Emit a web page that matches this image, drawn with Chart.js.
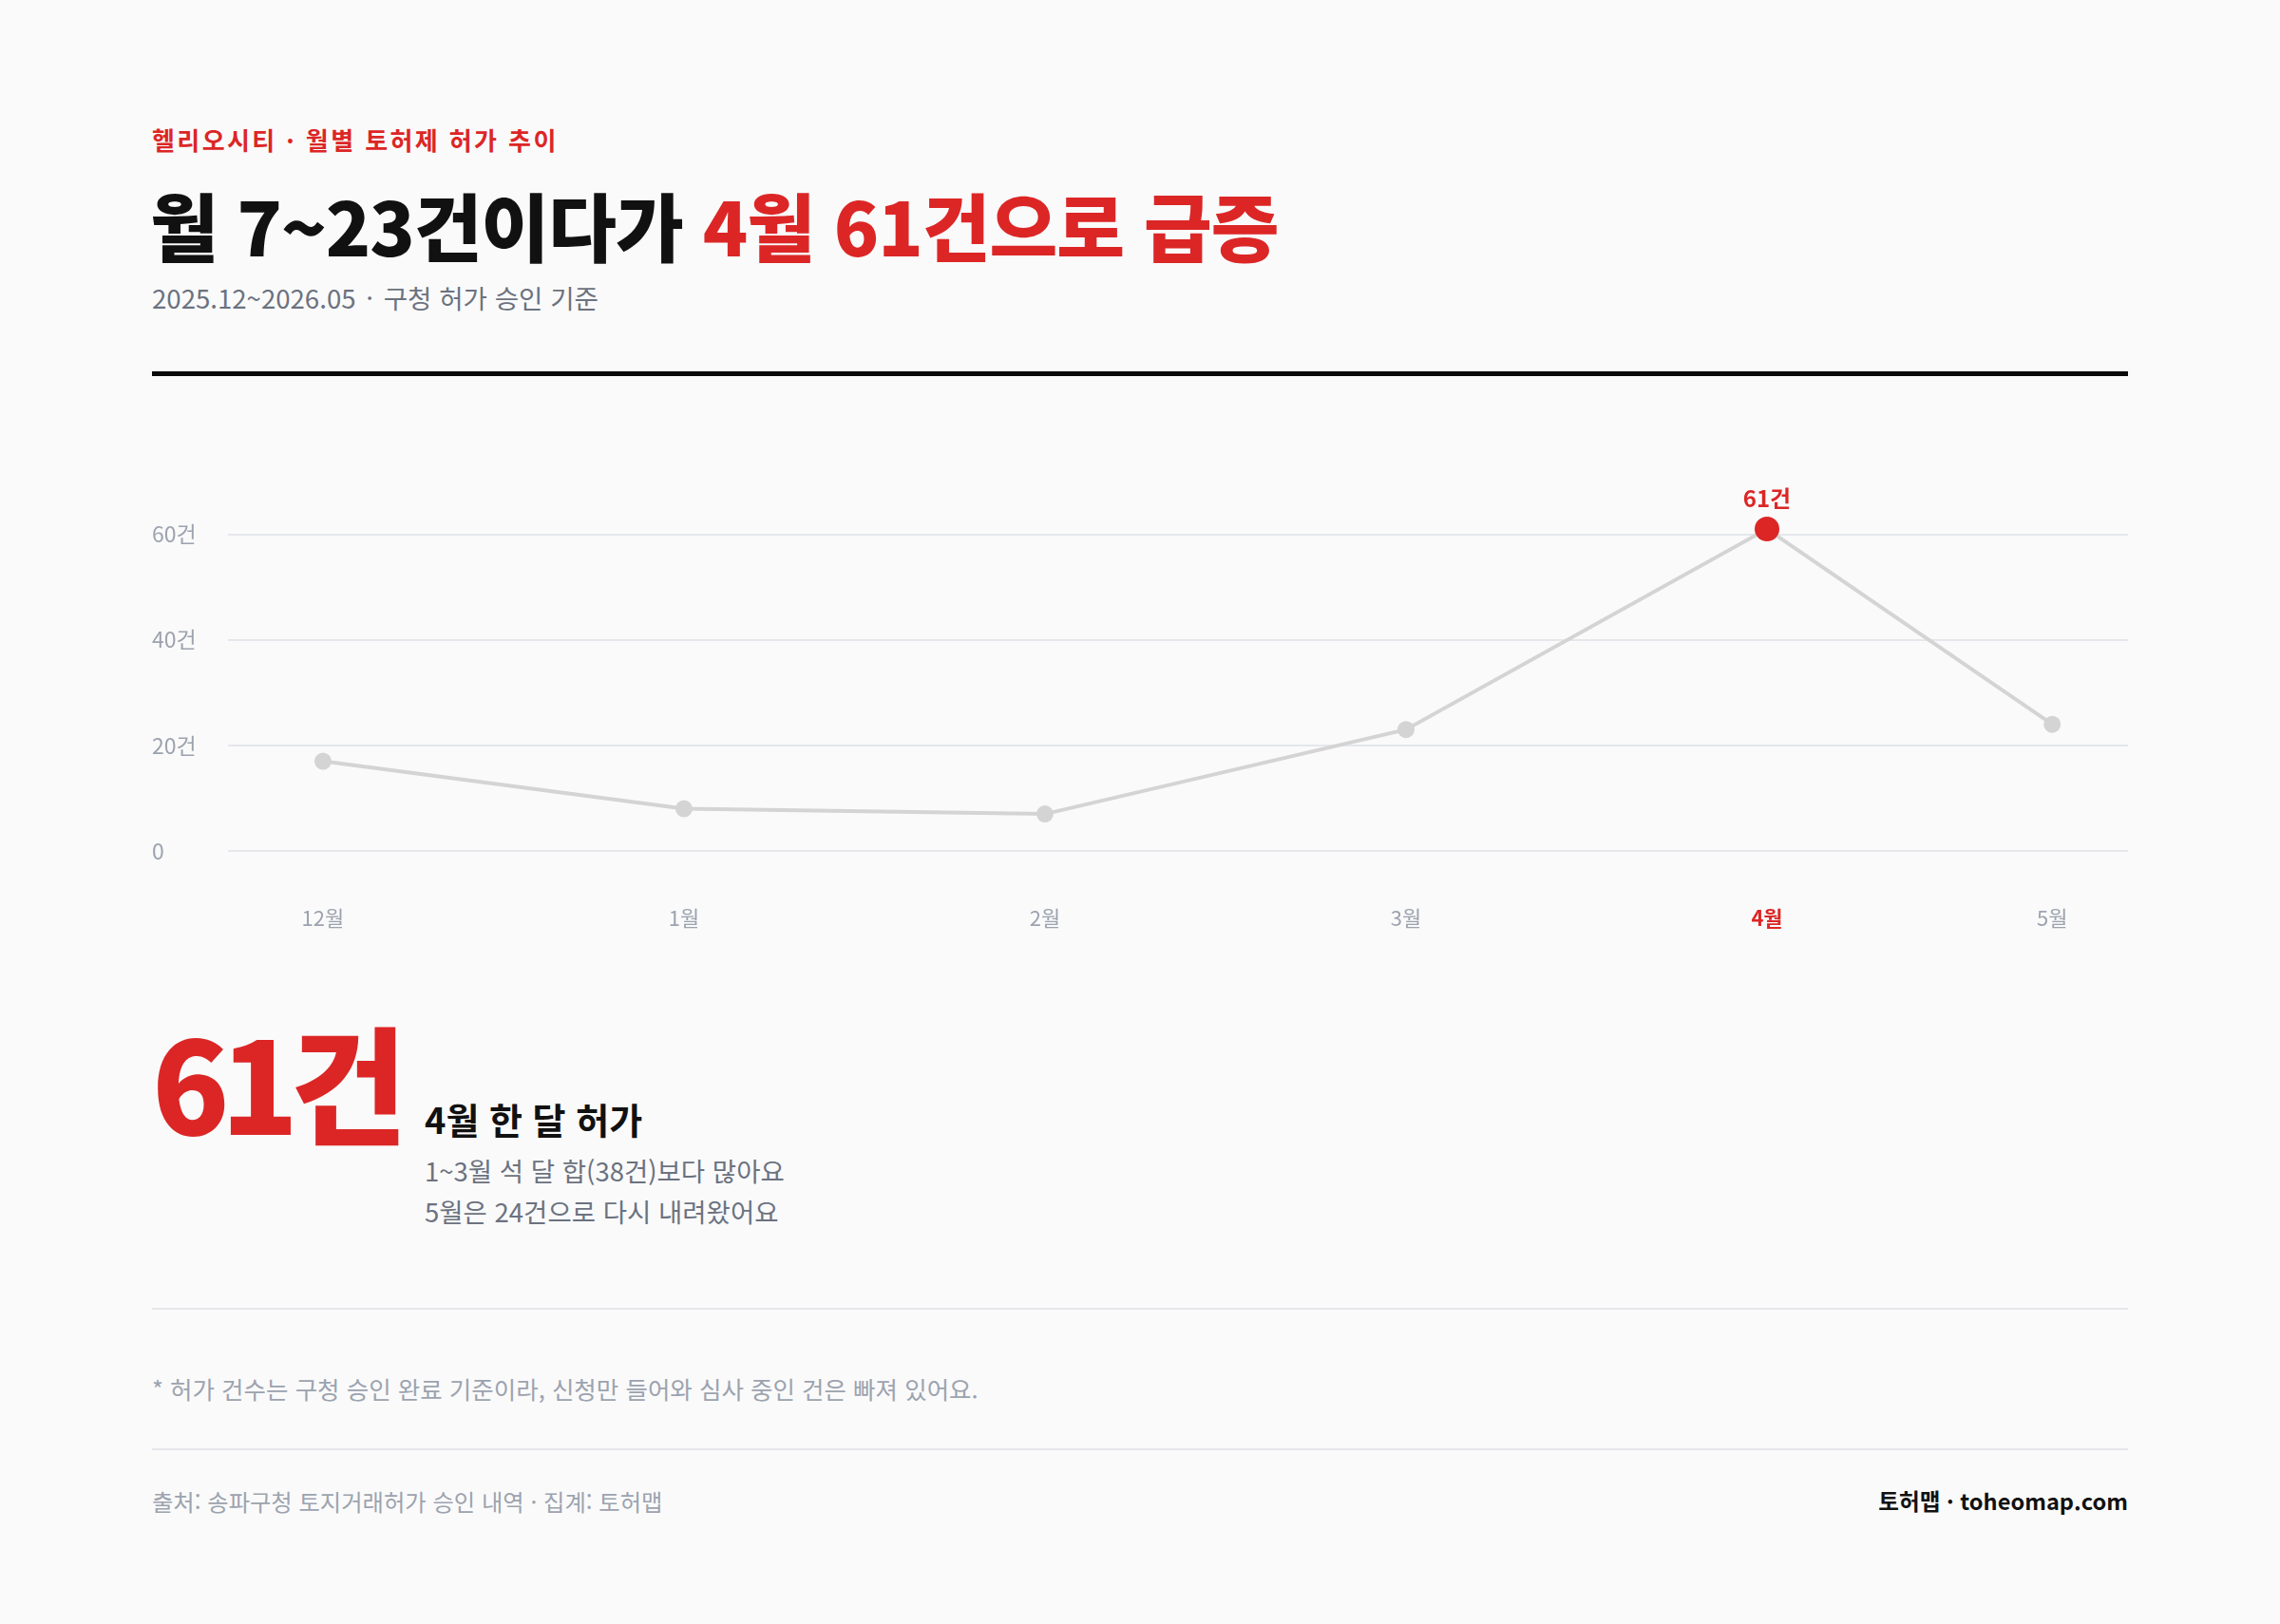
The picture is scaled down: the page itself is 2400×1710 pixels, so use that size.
<!DOCTYPE html>
<html lang="ko">
<head>
<meta charset="UTF-8">
<title>헬리오시티 월별 토허제 허가 추이</title>
<script src="https://cdn.jsdelivr.net/npm/chart.js"></script>
<style>
  body {
    margin: 0;
    width: 2400px;
    height: 1710px;
    background: #fafafa;
    font-family: 'Noto Sans CJK KR', 'Noto Sans', sans-serif;
    position: relative;
    overflow: hidden;
  }
  .abs { position: absolute; line-height: 1; white-space: nowrap; }
  .kicker { left: 160px; top: 134px; font-size: 26px; font-weight: 700; color: #dc2626; letter-spacing: 2.4px; }
  .title { left: 158px; top: 197px; font-size: 78px; font-weight: 900; color: #111; letter-spacing: -1px; }
  .title .red { color: #dc2626; }
  .sub { left: 160px; top: 300px; font-size: 27.6px; color: #6b7280; }
  .sub .dot { margin: 0 3px; }
  .rule { position: absolute; left: 160px; width: 2080px; top: 391px; height: 5px; background: #0a0a0a; }
  .chart-box { position: absolute; left: 150px; top: 440px; width: 2100px; height: 560px; }
  .big { left: 160px; top: 1070px; font-size: 134px; font-weight: 900; color: #dc2626; letter-spacing: -9px; }
  .big-head { left: 447px; top: 1159px; font-size: 38px; font-weight: 700; color: #111; }
  .line1 { left: 447px; top: 1219px; font-size: 27.5px; color: #6b7280; }
  .line2 { left: 447px; top: 1262px; font-size: 27.5px; color: #6b7280; }
  .sep { position: absolute; left: 160px; width: 2080px; height: 2px; background: #e5e7eb; }
  .note { left: 160px; top: 1449px; font-size: 25.5px; color: #9ca3af; }
  .src { left: 160px; top: 1569px; font-size: 24.3px; color: #9ca3af; }
  .brand { right: 160px; top: 1569px; font-size: 23.6px; font-weight: 700; color: #111; }
</style>
</head>
<body>
  <div class="abs kicker">헬리오시티 · 월별 토허제 허가 추이</div>
  <div class="abs title">월 7~23건이다가 <span class="red">4월 61건으로 급증</span></div>
  <div class="abs sub">2025.12~2026.05 <span class="dot">·</span> 구청 허가 승인 기준</div>
  <div class="rule"></div>

  <div class="chart-box"><canvas id="permitChart"></canvas></div>

  <div class="abs big">61건</div>
  <div class="abs big-head">4월 한 달 허가</div>
  <div class="abs line1">1~3월 석 달 합(38건)보다 많아요</div>
  <div class="abs line2">5월은 24건으로 다시 내려왔어요</div>

  <div class="sep" style="top:1377px"></div>
  <div class="abs note">* 허가 건수는 구청 승인 완료 기준이라, 신청만 들어와 심사 중인 건은 빠져 있어요.</div>
  <div class="sep" style="top:1525px"></div>
  <div class="abs src">출처: 송파구청 토지거래허가 승인 내역 · 집계: 토허맵</div>
  <div class="abs brand">토허맵 · toheomap.com</div>

<script>
// 월별 허가 건수
const months = ['12월', '1월', '2월', '3월', '4월', '5월'];
const monthPos = [0, 1, 2, 3, 4, 4.79];   // 가로 위치 (5월은 덜 찬 달)
const counts = [17, 8, 7, 23, 61, 24];
const yTicks = [0, 20, 40, 60];
const peakIndex = 4;

const RED = '#dc2626';
const GRAY_LINE = '#d4d4d4';
const GRAY_TEXT = '#9ca3af';

// 최고점 위에 "61건" 표시
const peakLabel = {
  id: 'peakLabel',
  afterDatasetsDraw(chart) {
    const pt = chart.getDatasetMeta(0).data[peakIndex];
    const ctx = chart.ctx;
    ctx.save();
    ctx.font = "700 24px 'Noto Sans CJK KR'";
    ctx.fillStyle = RED;
    ctx.textAlign = 'center';
    ctx.textBaseline = 'middle';
    ctx.fillText(counts[peakIndex] + '건', pt.x, pt.y - 32);
    ctx.restore();
  }
};

const ctx = document.getElementById('permitChart').getContext('2d');
new Chart(ctx, {
  type: 'line',
  data: {
    datasets: [{
      data: monthPos.map((x, i) => ({ x: x, y: counts[i] })),
      borderColor: GRAY_LINE,
      borderWidth: 4,
      tension: 0,
      pointRadius: c => c.dataIndex === peakIndex ? 13 : 9,
      pointBackgroundColor: c => c.dataIndex === peakIndex ? RED : GRAY_LINE,
      pointBorderWidth: 0,
      clip: false
    }]
  },
  options: {
    responsive: true,
    maintainAspectRatio: false,
    animation: false,
    layout: { padding: { left: 10, right: 10, top: 67, bottom: 0 } },
    plugins: { legend: { display: false }, tooltip: { enabled: false } },
    scales: {
      x: {
        type: 'linear',
        min: -0.263,
        max: 5.0,
        grid: { display: false },
        border: { display: false },
        afterBuildTicks: s => { s.ticks = monthPos.map(v => ({ value: v })); },
        afterFit: s => { s.height = 104; },
        ticks: {
          autoSkip: false,
          maxRotation: 0,
          padding: 49,
          callback: (v, i) => months[i],
          color: c => c.index === peakIndex ? RED : GRAY_TEXT,
          font: c => ({ family: 'Noto Sans CJK KR', size: 22, weight: c.index === peakIndex ? '700' : '400' })
        }
      },
      y: {
        min: 0,
        max: 70,
        afterBuildTicks: s => { s.ticks = yTicks.map(v => ({ value: v })); },
        afterFit: s => { s.width = 80; },
        grid: { color: '#e5e7eb', lineWidth: 2, drawTicks: false },
        border: { display: false },
        ticks: {
          crossAlign: 'far',
          color: GRAY_TEXT,
          font: { family: 'Noto Sans CJK KR', size: 23 },
          callback: v => v === 0 ? '0' : v + '건'
        }
      }
    }
  },
  plugins: [peakLabel]
});
</script>
</body>
</html>
